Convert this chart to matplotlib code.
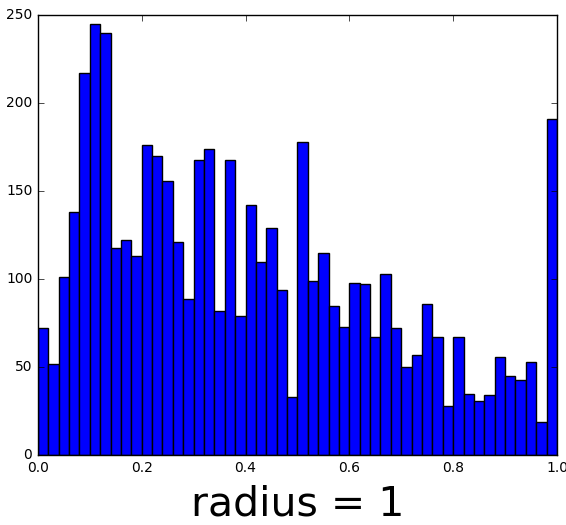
import numpy as np
import matplotlib
matplotlib.use("Agg")
import matplotlib.pyplot as plt

# histogram counts, 50 bins over [0, 1]
counts = [72, 52, 101, 138, 217, 245, 240, 118, 122, 113,
          176, 170, 156, 121, 89, 168, 174, 82, 168, 79,
          142, 110, 129, 94, 33, 178, 99, 115, 85, 73,
          98, 97, 67, 103, 72, 50, 57, 86, 67, 28,
          67, 35, 31, 34, 56, 45, 43, 53, 19, 191]
edges = np.linspace(0.0, 1.0, len(counts) + 1)
label = "radius = 1"

plt.style.use("classic")
fig = plt.figure(figsize=(5.66, 5.25), dpi=100, facecolor="white")
ax = fig.add_axes([0.067, 0.133, 0.917, 0.838])

ax.hist(edges[:-1], bins=edges, weights=counts, color="#0000ff",
        edgecolor="black", linewidth=1)
ax.set_xlim(0, 1)
ax.set_ylim(0, 250)
ax.set_xticks([0.0, 0.2, 0.4, 0.6, 0.8, 1.0])
ax.set_yticks([0, 50, 100, 150, 200, 250])
ax.tick_params(labelsize=10)
ax.set_xlabel(label, fontsize=29.5, labelpad=7)

fig.savefig("out.png", dpi=100, facecolor="white")
